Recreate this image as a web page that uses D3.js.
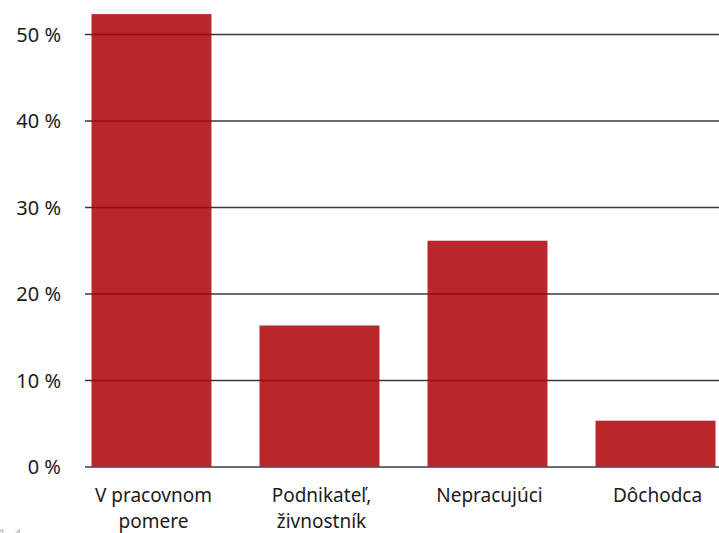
<!DOCTYPE html>
<html>
<head>
<meta charset="utf-8">
<script src="https://cdn.jsdelivr.net/npm/d3@7"></script>
<style>
  html, body { margin: 0; padding: 0; background: #fff; }
  svg { display: block; }
  text { font-family: "Noto Sans", "Open Sans", sans-serif; fill: #1e1a1b; }
</style>
</head>
<body>
<svg id="chart" width="719" height="533"></svg>
<script>
// Category names (each entry is a list of label lines)
const categories = [
  ["V pracovnom", "pomere"],
  ["Podnikateľ,", "živnostník"],
  ["Nepracujúci"],
  ["Dôchodca"]
];
// Share of respondents, in percent
const values = [52.3, 16.3, 26.1, 5.3];
// Y axis ticks
const yTicks = [0, 10, 20, 30, 40, 50];

const svg = d3.select("#chart");
const W = 719, H = 533;

const y = d3.scaleLinear().domain([0, 50]).range([466.5, 34]);
const x = d3.scaleBand()
  .domain(categories.map((d, i) => i))
  .range([91.5, 715.5])
  .paddingInner(0.286)
  .paddingOuter(0);

const gridLeft = 85, gridRight = W;

// Horizontal gridlines + tick labels
const yAxis = d3.axisLeft(y)
  .tickValues(yTicks)
  .tickSize(-(gridRight - gridLeft))
  .tickFormat(d => d + " %");

const gy = svg.append("g")
  .attr("transform", `translate(${gridLeft},0)`)
  .call(yAxis);
gy.select(".domain").remove();
gy.selectAll(".tick line")
  .attr("stroke", "#3a3a3a")
  .attr("stroke-width", 1.6);
gy.selectAll(".tick text")
  .attr("x", 61 - gridLeft)
  .attr("dy", "0.36em")
  .style("font-size", "20px")
  .style("fill", "#1e1a1b");

// Bars (slightly translucent so the gridlines show through)
svg.append("g")
  .selectAll("rect")
  .data(values)
  .join("rect")
  .attr("x", (d, i) => x(i))
  .attr("width", x.bandwidth())
  .attr("y", d => y(d))
  .attr("height", d => y(0) - y(d))
  .attr("fill", "rgb(173,0,6)")
  .attr("fill-opacity", 0.85);

// Category labels under the bars
const labels = svg.append("g")
  .selectAll("text")
  .data(categories)
  .join("text")
  .attr("text-anchor", "middle")
  .attr("transform", (d, i) => `translate(${x(i) + x.bandwidth() / 2 + 2},502)`)
  .style("font-size", "19px");
labels.selectAll("tspan")
  .data(d => d)
  .join("tspan")
  .attr("x", 0)
  .attr("dy", (d, j) => j === 0 ? 0 : 26)
  .text(d => d);

// Page number fragment at the lower-left edge
svg.append("text")
  .attr("x", -3)
  .attr("y", 542)
  .style("font-size", "18px")
  .style("fill", "#c8c8c8")
  .text("1.4");
</script>
</body>
</html>
